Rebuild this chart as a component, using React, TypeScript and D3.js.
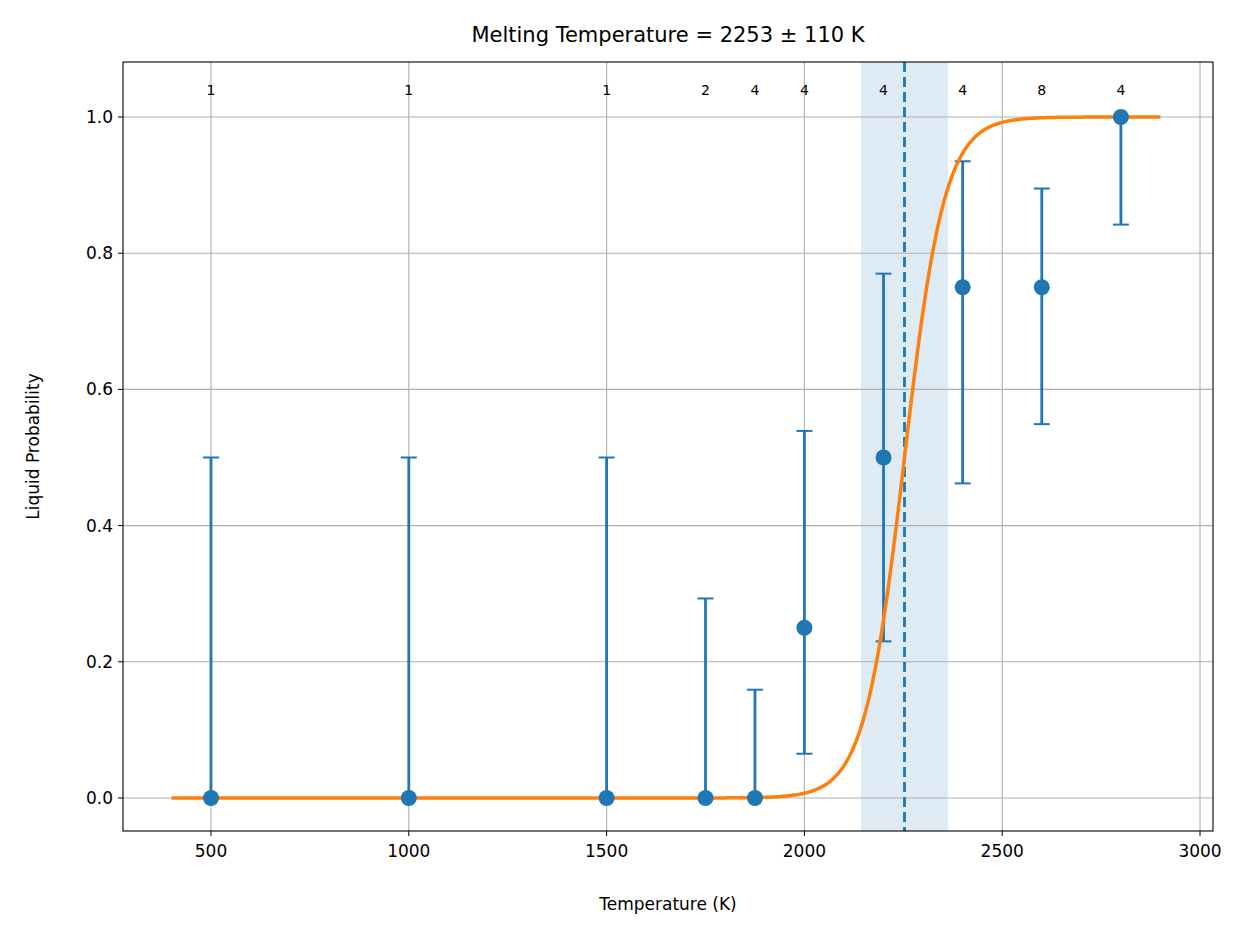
import React from "react";
import * as d3 from "d3";

const temps = [500, 1000, 1500, 1750, 1875, 2000, 2200, 2400, 2600, 2800];
const probs = [0, 0, 0, 0, 0, 0.25, 0.5, 0.75, 0.75, 1];
const lowers = [0, 0, 0, 0, 0, 0.065, 0.23, 0.462, 0.549, 0.842];
const uppers = [0.5, 0.5, 0.5, 0.293, 0.159, 0.539, 0.77, 0.935, 0.895, 1.0];
const counts = [1, 1, 1, 2, 4, 4, 4, 4, 8, 4];
const xTicks = [500, 1000, 1500, 2000, 2500, 3000];
const yTicks = [0, 0.2, 0.4, 0.6, 0.8, 1.0];
const meltT = 2253;
const meltErr = 110;
const fitScale = 51;
const fitRange = [400, 2900];

export default function App() {
  const L = 123, R = 1213, T = 62, B = 831;
  const x = d3.scaleLinear().domain([277.6, 3032.8]).range([L, R]);
  const y = d3.scaleLinear().domain([-0.0485, 1.0808]).range([B, T]);
  const curve: [number, number][] = d3.range(fitRange[0], fitRange[1] + 1, 5).map(t => [t, 1 / (1 + Math.exp(-(t - meltT) / fitScale))]);
  const line = d3.line<[number, number]>().x(d => x(d[0])).y(d => y(d[1]));
  const blue = "#1f77b4";
  const font = "DejaVu Sans, sans-serif";
  return (
    <svg width={1253} height={939} style={{ display: "block", margin: -8 }} fontFamily={font}>
      <rect width={1253} height={939} fill="white" />
      <rect x={x(meltT - meltErr)} y={T} width={x(meltT + meltErr) - x(meltT - meltErr)} height={B - T} fill={blue} opacity={0.15} />
      {xTicks.map(t => <line key={"gx" + t} x1={x(t)} x2={x(t)} y1={T} y2={B} stroke="#b0b0b0" strokeWidth={1.1} />)}
      {yTicks.map(t => <line key={"gy" + t} x1={L} x2={R} y1={y(t)} y2={y(t)} stroke="#b0b0b0" strokeWidth={1.1} />)}
      <line x1={x(meltT)} x2={x(meltT)} y1={T} y2={B} stroke={blue} strokeWidth={2.8} strokeDasharray="10,5" />
      {temps.map((t, i) => (
        <g key={"e" + i} stroke={blue} strokeWidth={2.8}>
          <line x1={x(t)} x2={x(t)} y1={y(lowers[i])} y2={y(uppers[i])} />
          <line x1={x(t) - 8} x2={x(t) + 8} y1={y(lowers[i])} y2={y(lowers[i])} strokeWidth={2} />
          <line x1={x(t) - 8} x2={x(t) + 8} y1={y(uppers[i])} y2={y(uppers[i])} strokeWidth={2} />
        </g>
      ))}
      <path d={line(curve) || ""} fill="none" stroke="#ff7f0e" strokeWidth={3.5} />
      {temps.map((t, i) => <circle key={"c" + i} cx={x(t)} cy={y(probs[i])} r={8} fill={blue} />)}
      {temps.map((t, i) => <text key={"n" + i} x={x(t)} y={y(1.04) + 5} textAnchor="middle" fontSize={14}>{counts[i]}</text>)}
      <rect x={L} y={T} width={R - L} height={B - T} fill="none" stroke="black" strokeWidth={1.1} />
      {xTicks.map(t => (
        <g key={"xt" + t}>
          <line x1={x(t)} x2={x(t)} y1={B} y2={B + 5} stroke="black" />
          <text x={x(t)} y={B + 26} textAnchor="middle" fontSize={17}>{t}</text>
        </g>
      ))}
      {yTicks.map(t => (
        <g key={"yt" + t}>
          <line x1={L - 5} x2={L} y1={y(t)} y2={y(t)} stroke="black" />
          <text x={L - 10} y={y(t) + 6} textAnchor="end" fontSize={17}>{t.toFixed(1)}</text>
        </g>
      ))}
      <text x={(L + R) / 2} y={910} textAnchor="middle" fontSize={17}>Temperature (K)</text>
      <text transform={`translate(39,${(T + B) / 2}) rotate(-90)`} textAnchor="middle" fontSize={17}>Liquid Probability</text>
      <text x={(L + R) / 2} y={42} textAnchor="middle" fontSize={21}>Melting Temperature = 2253 ± 110 K</text>
    </svg>
  );
}
